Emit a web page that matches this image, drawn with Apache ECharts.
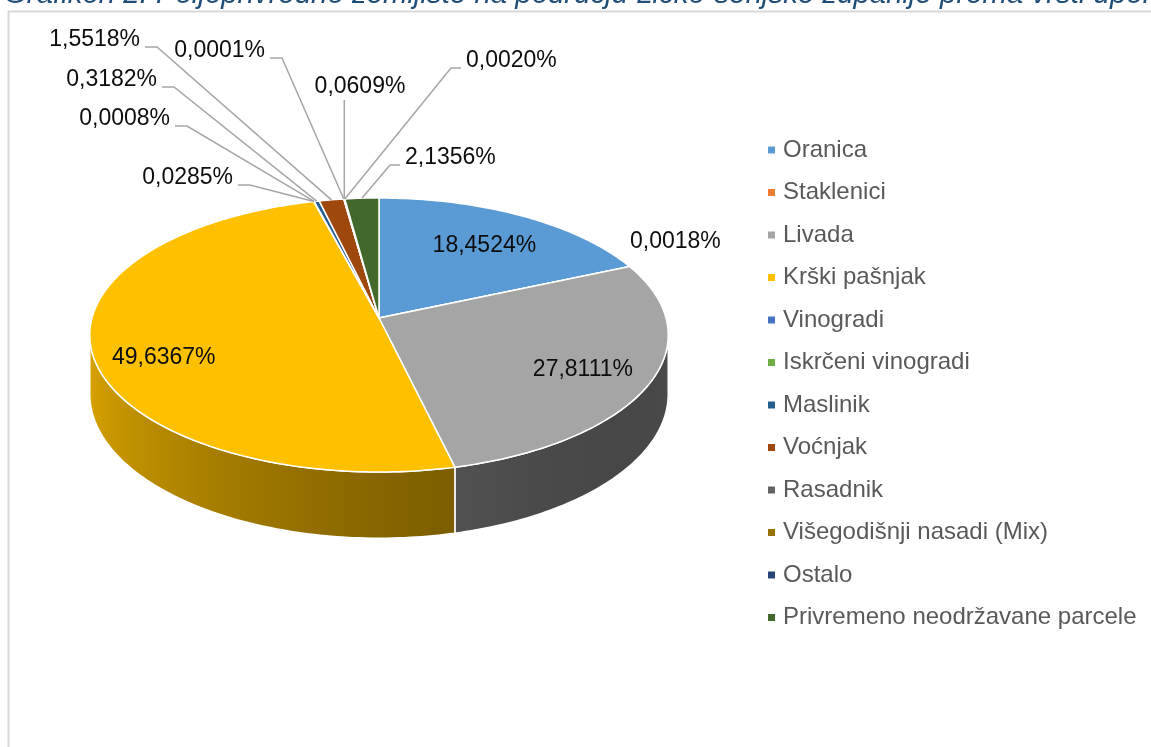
<!DOCTYPE html>
<html>
<head>
<meta charset="utf-8">
<title>Poljoprivredno zemljište</title>
<script src="https://cdn.jsdelivr.net/npm/echarts@6/dist/echarts.min.js"></script>
<style>
  html, body { margin: 0; padding: 0; background: #fff; }
  #main { width: 1151px; height: 747px; }
</style>
</head>
<body>
<div id="main"></div>
<script type="text/javascript">
// podaci
var categories = ['Oranica', 'Staklenici', 'Livada', 'Krški pašnjak', 'Vinogradi', 'Iskrčeni vinogradi',
  'Maslinik', 'Voćnjak', 'Rasadnik', 'Višegodišnji nasadi (Mix)', 'Ostalo', 'Privremeno neodržavane parcele'];
var shares = [18.4524, 0.0018, 27.8111, 49.6367, 0.0285, 0.0008, 0.3182, 1.5518, 0.0001, 0.0609, 0.0020, 2.1356];
var colors = ['#5B9BD5', '#ED7D31', '#A5A5A5', '#FFC000', '#4472C4', '#70AD47',
  '#255E91', '#9E480E', '#636363', '#997300', '#264478', '#43682B'];

// "3D" geometrija (vrh elipse, perspektiva, dubina)
var CX = 379, CY = 318, RX = 287, RY = 134.9, P = 0.124, H = 58;
var FONT = '"Liberation Sans", Arial, sans-serif';

// label: unutra (r) ili vani s linijom
var labelSpots = {
  0: { inside: 0.74, dy: 3 },
  1: { x: 630, y: 242, align: 'left', line: false },
  2: { inside: 0.75, dy: 4 },
  3: { inside: 0.75, dy: 14 },
  4: { x: 233, y: 178, align: 'right' },
  5: { x: 170, y: 119, align: 'right' },
  6: { x: 157, y: 80, align: 'right' },
  7: { x: 140, y: 40, align: 'right' },
  8: { x: 265, y: 51, align: 'right' },
  9: { x: 360, y: 87, align: 'center', below: true },
  10: { x: 466, y: 61, align: 'left' },
  11: { x: 405, y: 158, align: 'left' }
};

var total = shares.reduce(function (a, b) { return a + b; }, 0);
var acc = 0;
var sliceData = shares.map(function (v, i) {
  var s = acc;
  acc += v;
  return { name: categories[i], value: [i, s / total, acc / total, v] };
});

function proj(t, drop) {
  var w = 1 / (1 + P * Math.cos(t));
  return [CX + RX * Math.sin(t) * w, CY - RY * Math.cos(t) * w + (drop || 0) * w];
}

function shade(hex, f) {
  var n = parseInt(hex.slice(1), 16);
  var r = Math.round(((n >> 16) & 255) * f), g = Math.round(((n >> 8) & 255) * f), b = Math.round((n & 255) * f);
  return 'rgb(' + r + ',' + g + ',' + b + ')';
}

function sideFactor(t) {
  return 0.68 - 0.2 * Math.sin(t) + 0.15 * Math.cos(t);
}

function fmt(v) {
  return v.toFixed(4).replace('.', ',') + '%';
}

function arc(a0, a1, drop) {
  var n = Math.max(1, Math.ceil((a1 - a0) / (Math.PI / 180)));
  var pts = [];
  for (var k = 0; k <= n; k++) pts.push(proj(a0 + (a1 - a0) * k / n, drop));
  return pts;
}

function renderSlice(params, api) {
  var i = api.value(0);
  var a0 = api.value(1) * 2 * Math.PI, a1 = api.value(2) * 2 * Math.PI;
  var v = api.value(3);
  var color = colors[i];
  var children = [];

  // bocna stijenka (samo prednja polovica)
  var vis0 = Math.acos(-P), vis1 = 2 * Math.PI - vis0;
  var w0 = Math.max(a0, vis0), w1 = Math.min(a1, vis1);
  if (w1 > w0) {
    var topArc = arc(w0, w1, 0);
    var botArc = arc(w0, w1, H).reverse();
    var xs = topArc.map(function (p) { return p[0]; });
    var xmin = Math.min.apply(null, xs), xmax = Math.max.apply(null, xs);
    var fill;
    if (xmax - xmin < 1) {
      fill = shade(color, sideFactor((w0 + w1) / 2));
    } else {
      var stops = [];
      for (var k = 0; k <= 10; k++) {
        var t = w0 + (w1 - w0) * k / 10;
        var px = proj(t, 0)[0];
        stops.push({ offset: (px - xmin) / (xmax - xmin), color: shade(color, sideFactor(t)) });
      }
      stops.sort(function (a, b) { return a.offset - b.offset; });
      fill = new echarts.graphic.LinearGradient(xmin, 0, xmax, 0, stops, true);
    }
    children.push({
      type: 'polygon', z2: 1,
      shape: { points: topArc.concat(botArc) },
      style: { fill: fill, stroke: '#fff', lineWidth: 1.5 }
    });
  }

  // gornja ploha
  children.push({
    type: 'polygon', z2: 2,
    shape: { points: [[CX, CY]].concat(arc(a0, a1, 0)) },
    style: { fill: color, stroke: '#fff', lineWidth: 1.5, lineJoin: 'round' }
  });

  // oznake
  var spot = labelSpots[i];
  var mid = (a0 + a1) / 2;
  var textStyle = { fontSize: 23, fontFamily: FONT, fill: '#0d0d0d', verticalAlign: 'middle' };
  if (spot.inside) {
    var w = 1 / (1 + P * Math.cos(mid));
    var lx = CX + RX * Math.sin(mid) * w * spot.inside;
    var ly = CY - RY * Math.cos(mid) * w * spot.inside + (spot.dy || 0);
    children.push({ type: 'text', z2: 10, style: Object.assign({ text: fmt(v), x: lx, y: ly, align: 'center' }, textStyle) });
  } else {
    children.push({ type: 'text', z2: 10, style: Object.assign({ text: fmt(v), x: spot.x, y: spot.y, align: spot.align }, textStyle) });
    if (spot.line !== false) {
      var rim = proj(mid, 0);
      var pts;
      if (spot.below) {
        pts = [[rim[0], spot.y + 13], rim];
      } else if (spot.align === 'right') {
        pts = [[spot.x + 5, spot.y + 7], [spot.x + 17, spot.y + 7], rim];
      } else {
        pts = [[spot.x - 5, spot.y + 7], [spot.x - 15, spot.y + 7], rim];
      }
      children.push({
        type: 'polyline', z2: 9,
        shape: { points: pts },
        style: { stroke: '#A6A6A6', lineWidth: 1.5, fill: null }
      });
    }
  }
  return { type: 'group', children: children };
}

var chart = echarts.init(document.getElementById('main'));
chart.setOption({
  backgroundColor: '#fff',
  animation: false,
  title: {
    text: 'Grafikon 2. Poljoprivredno zemljište na području Ličko-senjske županije prema vrsti uporabe',
    left: 4,
    top: -20,
    padding: 0,
    textStyle: { fontSize: 29.4, fontStyle: 'italic', fontWeight: 'normal', color: '#1F4E79', fontFamily: FONT }
  },
  graphic: [{
    type: 'rect', left: 6, top: 9, silent: true,
    shape: { width: 1300, height: 900 },
    style: { fill: null, stroke: '#D9D9D9', lineWidth: 2 }
  }],
  legend: {
    orient: 'vertical',
    left: 763,
    top: 133,
    icon: 'rect',
    itemWidth: 7,
    itemHeight: 7,
    itemGap: 18.5,
    selectedMode: false,
    textStyle: { fontSize: 24, lineHeight: 24, color: '#595959', fontFamily: FONT, padding: [0, 0, 0, 3] },
    data: categories
  },
  series: [{
    // samo za legendu
    type: 'pie',
    radius: [0, 0],
    center: [-100, -100],
    silent: true,
    label: { show: false },
    labelLine: { show: false },
    data: categories.map(function (c, i) {
      return { name: c, value: shares[i], itemStyle: { color: colors[i] } };
    })
  }, {
    type: 'custom',
    coordinateSystem: 'none',
    renderItem: renderSlice,
    data: sliceData
  }]
});
</script>
</body>
</html>
